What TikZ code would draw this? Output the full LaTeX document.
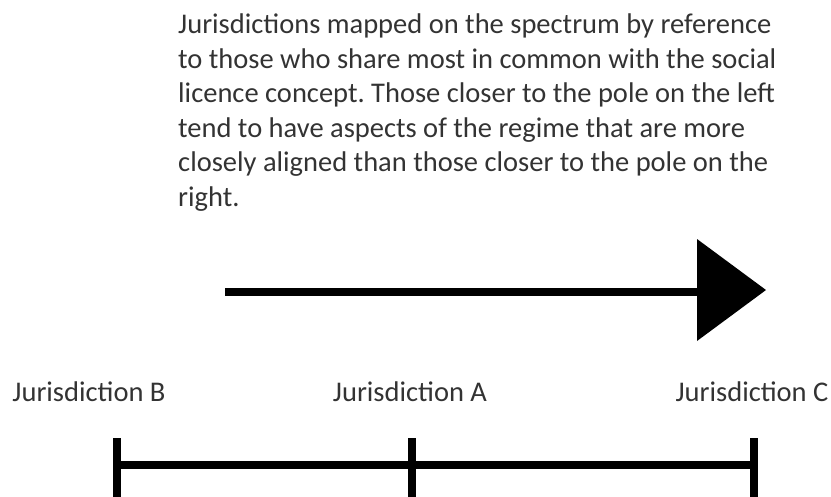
\documentclass[tikz,border=0pt]{standalone}
\usepackage{fontspec}
\setmainfont{Carlito}
\usetikzlibrary{calc}
\frenchspacing
\begin{document}
\begin{tikzpicture}[x=1pt,y=-1pt,
  txt/.style={text=black!80,font=\fontsize{28.5}{34.5}\selectfont,inner sep=0pt},
  thick line/.style={line width=8pt,black},
  tick/.style={line width=8.5pt,black}]
\useasboundingbox (0,0) rectangle (831,496);
% explanatory paragraph
\node[txt,anchor=north west,align=left] (note) at (178,14)
 {Jurisdictions mapped on the spectrum by reference\\
  to those who share most in common with the social\\
  licence concept. Those closer to the pole on the left\\
  tend to have aspects of the regime that are more\\
  closely aligned than those closer to the pole on the\\
  right.};
% direction arrow
\coordinate (arrowstart) at (225,292);
\coordinate (headbase) at (700,292);
\coordinate (arrowtip) at (766,290);
\draw[thick line] (arrowstart) -- (headbase);
\fill[black] ($(headbase)+(-3,-53)$) -- (arrowtip) -- ($(headbase)+(-3,49)$) -- cycle;
% jurisdiction labels
\node[txt,anchor=base] (labB) at (89,401) {Jurisdiction B};
\node[txt,anchor=base] (labA) at (410,401) {Jurisdiction A};
\node[txt,anchor=base] (labC) at (752,401) {Jurisdiction C};
% scale with ticks
\coordinate (tB) at (117,465);
\coordinate (tA) at (412,465);
\coordinate (tC) at (754,465);
\draw[thick line] (tB) -- (tC);
\foreach \t in {tB,tA,tC}
  \draw[tick] ($(\t)+(0,-27)$) -- ($(\t)+(0,34)$);
\end{tikzpicture}
\end{document}
